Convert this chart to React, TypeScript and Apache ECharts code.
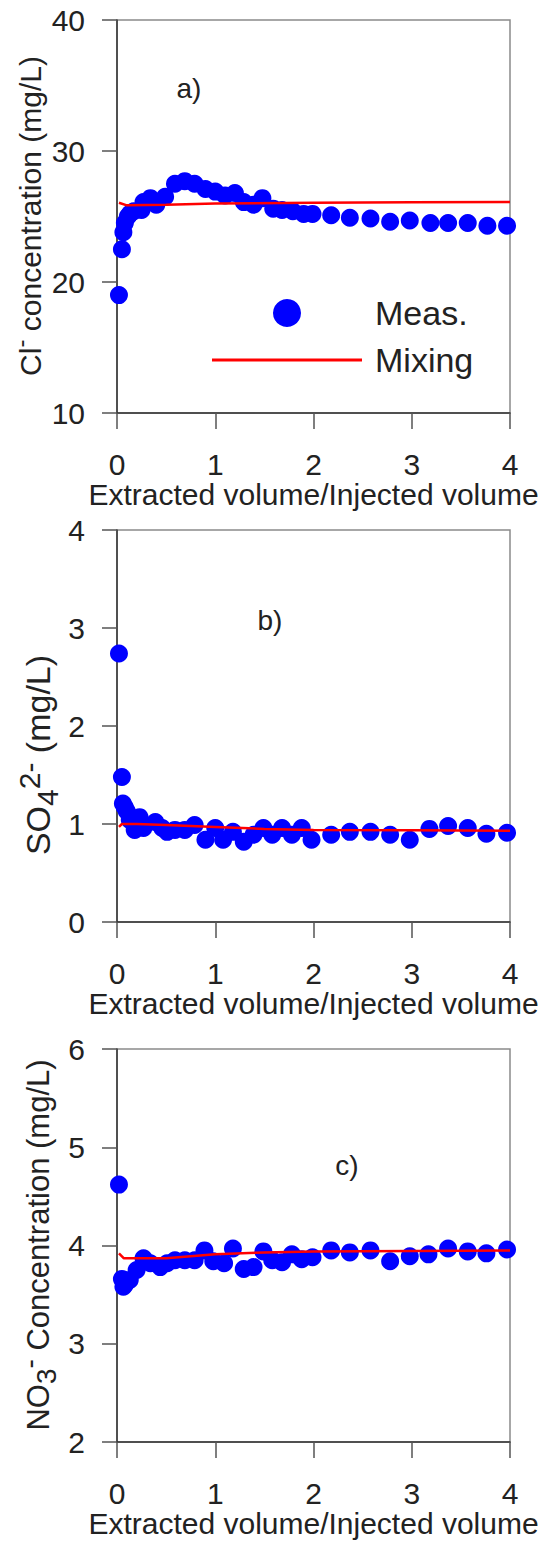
import React, { useEffect, useRef } from "react";
import * as echarts from "echarts";

// ---- data ----
const xTicks = [0, 1, 2, 3, 4];

// a) chloride
const clX = [0.02, 0.05, 0.065, 0.08, 0.11, 0.13, 0.17, 0.25, 0.27, 0.34, 0.4, 0.49, 0.59, 0.69, 0.79, 0.9, 1.0, 1.1, 1.2, 1.29, 1.39, 1.48, 1.59, 1.68, 1.79, 1.9, 1.99, 2.18, 2.37, 2.58, 2.78, 2.98, 3.19, 3.37, 3.57, 3.77, 3.97];
const clY = [19.0, 22.5, 23.8, 24.5, 25.0, 25.2, 25.4, 25.5, 26.1, 26.4, 25.9, 26.5, 27.5, 27.7, 27.5, 27.1, 26.9, 26.6, 26.8, 26.1, 25.9, 26.4, 25.6, 25.5, 25.4, 25.2, 25.2, 25.1, 24.9, 24.85, 24.6, 24.7, 24.5, 24.5, 24.5, 24.3, 24.3];
const clMixX = [0.02, 0.1, 0.5, 1.0, 2.0, 3.0, 4.0];
const clMixY = [26.05, 25.85, 25.9, 26.0, 26.05, 26.08, 26.1];

// b) sulphate
const so4X = [0.02, 0.05, 0.06, 0.08, 0.1, 0.13, 0.18, 0.23, 0.27, 0.39, 0.46, 0.51, 0.59, 0.69, 0.79, 0.9, 1.0, 1.08, 1.18, 1.29, 1.39, 1.49, 1.58, 1.68, 1.78, 1.88, 1.98, 2.18, 2.37, 2.58, 2.78, 2.98, 3.18, 3.37, 3.57, 3.76, 3.97];
const so4Y = [2.74, 1.48, 1.21, 1.17, 1.13, 1.04, 0.94, 1.07, 0.96, 1.02, 0.96, 0.92, 0.94, 0.94, 0.99, 0.84, 0.96, 0.84, 0.92, 0.82, 0.89, 0.96, 0.89, 0.96, 0.89, 0.96, 0.84, 0.89, 0.92, 0.92, 0.89, 0.84, 0.95, 0.98, 0.96, 0.9, 0.91];
const so4MixX = [0.02, 0.05, 0.2, 0.5, 1.0, 1.5, 2.0, 3.0, 4.0];
const so4MixY = [0.97, 1.0, 1.0, 0.99, 0.97, 0.95, 0.94, 0.935, 0.93];

// c) nitrate
const no3X = [0.02, 0.05, 0.065, 0.08, 0.13, 0.2, 0.27, 0.34, 0.44, 0.51, 0.59, 0.69, 0.79, 0.89, 0.98, 1.09, 1.18, 1.29, 1.39, 1.49, 1.58, 1.68, 1.78, 1.88, 1.99, 2.18, 2.37, 2.58, 2.78, 2.98, 3.17, 3.37, 3.57, 3.76, 3.97];
const no3Y = [4.62, 3.66, 3.58, 3.6, 3.65, 3.75, 3.87, 3.82, 3.78, 3.82, 3.85, 3.85, 3.85, 3.95, 3.84, 3.82, 3.97, 3.76, 3.78, 3.94, 3.85, 3.83, 3.91, 3.86, 3.88, 3.95, 3.93, 3.95, 3.84, 3.89, 3.91, 3.97, 3.94, 3.92, 3.96];
const no3MixX = [0.02, 0.07, 0.5, 1.0, 1.5, 2.0, 3.0, 4.0];
const no3MixY = [3.92, 3.87, 3.87, 3.91, 3.93, 3.94, 3.945, 3.95];

const xTitle = "Extracted volume/Injected volume";
const panelLabels = ["a)", "b)", "c)"];
const yRanges = [
  { min: 10, max: 40, interval: 10 },
  { min: 0, max: 4, interval: 1 },
  { min: 2, max: 6, interval: 1 },
];

const FONT = '"Liberation Sans", Arial, Helvetica, sans-serif';
const TXT = "#222";
const BLUE = "#0000ff";
const RED = "#ff0000";

const zip = (xs: number[], ys: number[]) => xs.map((x, i) => [x, ys[i]]);

const grids = [
  { left: 117, top: 20, width: 393, height: 393 },
  { left: 117, top: 530, width: 393, height: 392 },
  { left: 117, top: 1049, width: 393, height: 393 },
];

const makeRich = (n: number, s: number) => ({
  n: { fontSize: n, lineHeight: n + 14, fontFamily: FONT, fill: TXT, color: TXT, verticalAlign: "middle" },
  sup: { fontSize: s, lineHeight: s - 4, fontFamily: FONT, fill: TXT, color: TXT, verticalAlign: "top" },
  sub: { fontSize: s, lineHeight: s - 4, fontFamily: FONT, fill: TXT, color: TXT, verticalAlign: "bottom" },
});

export default function App() {
  const ref = useRef<HTMLDivElement>(null);
  useEffect(() => {
    document.body.style.margin = "0";
    if (!ref.current) return;
    const chart = echarts.init(ref.current, null, { renderer: "svg" });

    const xAxis = grids.map((_, i) => ({
      type: "value",
      gridIndex: i,
      min: xTicks[0],
      max: xTicks[xTicks.length - 1],
      interval: 1,
      axisLine: { show: true, onZero: false, lineStyle: { color: "#333", width: 1.5 } },
      axisTick: { show: true, inside: false, length: 16, lineStyle: { color: "#555", width: 1.5 } },
      axisLabel: { fontSize: 30, color: TXT, fontFamily: FONT, margin: 36 },
      splitLine: { show: false },
      name: xTitle,
      nameLocation: "middle",
      nameGap: 65,
      nameTextStyle: { fontSize: 30, color: TXT, fontFamily: FONT },
    }));

    const yAxis = yRanges.map((r, i) => ({
      type: "value",
      gridIndex: i,
      min: r.min,
      max: r.max,
      interval: r.interval,
      axisLine: { show: true, onZero: false, lineStyle: { color: "#333", width: 1.5 } },
      axisTick: { show: true, inside: false, length: 15, lineStyle: { color: "#555", width: 1.5 } },
      axisLabel: { fontSize: 30, color: TXT, fontFamily: FONT, margin: 32 },
      splitLine: { show: false },
    }));

    const scatterSets = [zip(clX, clY), zip(so4X, so4Y), zip(no3X, no3Y)];
    const mixSets = [zip(clMixX, clMixY), zip(so4MixX, so4MixY), zip(no3MixX, no3MixY)];

    const series: any[] = [];
    for (let i = 0; i < 3; i++) {
      series.push({
        type: "scatter",
        name: "Meas.",
        xAxisIndex: i,
        yAxisIndex: i,
        data: scatterSets[i],
        symbol: "circle",
        symbolSize: 18,
        itemStyle: { color: BLUE, opacity: 1 },
        z: 2,
      });
      series.push({
        type: "line",
        name: "Mixing",
        xAxisIndex: i,
        yAxisIndex: i,
        data: mixSets[i],
        symbol: "none",
        showSymbol: false,
        itemStyle: { color: RED },
        lineStyle: { color: RED, width: 2.5 },
        z: 3,
      });
    }

    const yTitles = [
      { x: 30, y: 216, text: "{n|Cl}{sup|-}{n| concentration (mg/L)}", rich: makeRich(30, 24) },
      { x: 38, y: 755, text: "{n|SO}{sub|4}{sup|2-}{n| (mg/L)}", rich: makeRich(34, 30) },
      { x: 38, y: 1245, text: "{n|NO}{sub|3}{sup|-}{n| Concentration (mg/L)}", rich: makeRich(31, 28) },
    ];
    const labelPos = [
      [189, 88],
      [270, 620],
      [347, 1165],
    ];

    const graphic: any[] = [];
    yTitles.forEach((t) => {
      graphic.push({
        type: "text",
        x: t.x,
        y: t.y,
        rotation: Math.PI / 2,
        style: {
          text: t.text,
          rich: t.rich,
          fontSize: 30,
          fontFamily: FONT,
          fill: TXT,
          align: "center",
          verticalAlign: "middle",
        },
      });
    });
    panelLabels.forEach((l, i) => {
      graphic.push({
        type: "text",
        x: labelPos[i][0],
        y: labelPos[i][1],
        style: {
          text: l,
          fontSize: 28,
          fontFamily: FONT,
          fill: TXT,
          align: "center",
          verticalAlign: "middle",
        },
      });
    });

    chart.setOption({
      animation: false,
      backgroundColor: "#fff",
      grid: grids.map((g) => ({
        ...g,
        show: true,
        borderColor: "#8a8a8a",
        borderWidth: 1.5,
        backgroundColor: "transparent",
      })),
      xAxis,
      yAxis,
      series,
      legend: [
        {
          selectedMode: false,
          left: 273,
          top: 296,
          padding: 0,
          data: [{ name: "Meas.", icon: "circle" }],
          itemWidth: 28,
          itemHeight: 28,
          textStyle: { fontSize: 34, color: TXT, fontFamily: FONT, padding: [0, 0, 0, 69] },
        },
        {
          selectedMode: false,
          left: 212,
          top: 343,
          padding: 0,
          data: [{ name: "Mixing", icon: "rect" }],
          itemWidth: 150,
          itemHeight: 3,
          itemStyle: { borderWidth: 0 },
          textStyle: { fontSize: 34, color: TXT, fontFamily: FONT, padding: [0, 0, 0, 8] },
        },
      ],
      graphic,
    });
    return () => chart.dispose();
  }, []);
  return <div ref={ref} style={{ width: 543, height: 1542 }} />;
}
